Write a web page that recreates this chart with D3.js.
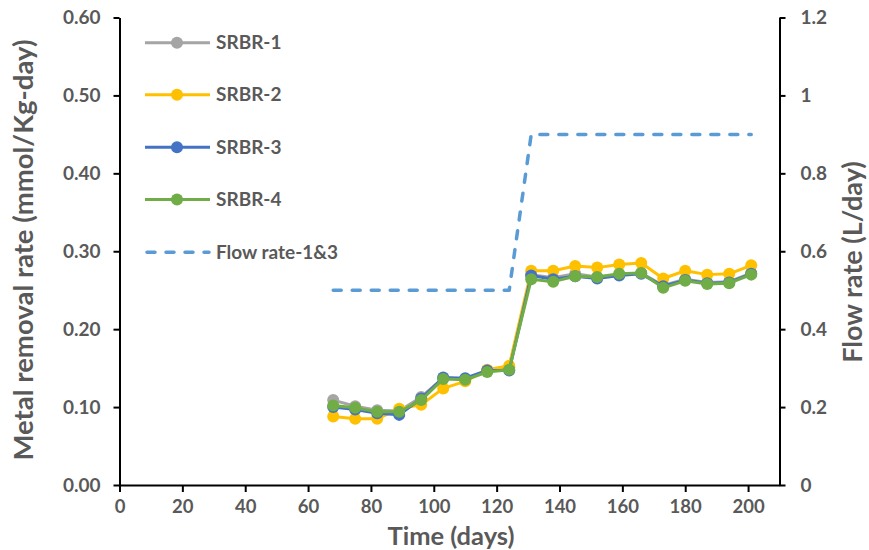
<!DOCTYPE html>
<html>
<head>
<meta charset="utf-8">
<script src="https://cdn.jsdelivr.net/npm/d3@7"></script>
<style>
  html, body { margin: 0; padding: 0; background: #fff; }
  svg { display: block; }
  text { font-family: Lato, "Open Sans", sans-serif; font-weight: bold; fill: #595959; }
</style>
</head>
<body>
<svg id="chart" width="869" height="550"></svg>
<script>
// Sampling days (weekly)
const days = [68, 75, 82, 89, 96, 103, 110, 117, 124, 131, 138, 145, 152, 159, 166, 173, 180, 187, 194, 201];

// Metal removal rate (mmol/Kg-day) per reactor
const srbr1 = [0.109, 0.101, 0.096, 0.095, 0.113, 0.137, 0.136, 0.146, 0.151, 0.270, 0.266, 0.271, 0.267, 0.270, 0.272, 0.256, 0.264, 0.260, 0.261, 0.272];
const srbr2 = [0.088, 0.085, 0.085, 0.098, 0.103, 0.124, 0.133, 0.148, 0.153, 0.275, 0.275, 0.281, 0.279, 0.283, 0.285, 0.265, 0.275, 0.270, 0.271, 0.282];
const srbr3 = [0.100, 0.097, 0.092, 0.090, 0.111, 0.138, 0.137, 0.147, 0.147, 0.269, 0.264, 0.268, 0.265, 0.269, 0.271, 0.255, 0.263, 0.259, 0.260, 0.271];
const srbr4 = [0.102, 0.099, 0.094, 0.094, 0.109, 0.136, 0.135, 0.145, 0.148, 0.264, 0.261, 0.268, 0.267, 0.271, 0.272, 0.253, 0.262, 0.258, 0.259, 0.270];

// Flow rate (L/day) for reactors 1 & 3
const flowRate = [0.5, 0.5, 0.5, 0.5, 0.5, 0.5, 0.5, 0.5, 0.5, 0.9, 0.9, 0.9, 0.9, 0.9, 0.9, 0.9, 0.9, 0.9, 0.9, 0.9];

// Axis ticks
const xTicks = [0, 20, 40, 60, 80, 100, 120, 140, 160, 180, 200];
const yLeftTicks = [0, 0.1, 0.2, 0.3, 0.4, 0.5, 0.6];
const yRightTicks = [0, 0.2, 0.4, 0.6, 0.8, 1, 1.2];

const seriesNames = ["SRBR-1", "SRBR-2", "SRBR-3", "SRBR-4"];
const seriesValues = [srbr1, srbr2, srbr3, srbr4];
const seriesColors = ["#A5A5A5", "#FFC000", "#4472C4", "#70AD47"];
const flowName = "Flow rate-1&3";
const flowColor = "#5B9BD5";

const svg = d3.select("#chart");
const plot = { left: 119.5, right: 779.5, top: 17.5, bottom: 485 };

const x = d3.scaleLinear().domain([0, 210]).range([plot.left, plot.right]);
const yL = d3.scaleLinear().domain([0, 0.6]).range([plot.bottom, plot.top]);
const yR = d3.scaleLinear().domain([0, 1.2]).range([plot.bottom, plot.top]);

// Axes
function styleAxis(g, size) {
  g.selectAll("path.domain").attr("stroke", "#000").attr("stroke-width", 2);
  g.selectAll(".tick line").attr("stroke", "#000").attr("stroke-width", 2);
  g.selectAll(".tick text").style("font-size", size + "px").style("font-family", "Lato, sans-serif")
    .style("font-weight", "bold").attr("fill", "#595959");
}

svg.append("g")
  .attr("transform", `translate(0,${plot.bottom})`)
  .call(d3.axisBottom(x).tickValues(xTicks).tickSize(7).tickSizeOuter(0).tickPadding(8).tickFormat(d3.format("d")))
  .call(g => styleAxis(g, 18.5));

svg.append("g")
  .attr("transform", `translate(${plot.left},0)`)
  .call(d3.axisLeft(yL).tickValues(yLeftTicks).tickSize(6).tickSizeOuter(0).tickPadding(13).tickFormat(d3.format(".2f")))
  .call(g => styleAxis(g, 19));

svg.append("g")
  .attr("transform", `translate(${plot.right},0)`)
  .call(d3.axisRight(yR).tickValues(yRightTicks).tickSize(6).tickSizeOuter(0).tickPadding(15).tickFormat(d => d3.format("")(+d.toFixed(1))))
  .call(g => styleAxis(g, 19));

// Axis titles
svg.append("text")
  .attr("x", 451).attr("y", 545)
  .attr("text-anchor", "middle").style("font-size", "25.5px")
  .text("Time (days)");

svg.append("text")
  .attr("transform", `translate(33,${250}) rotate(-90)`)
  .attr("text-anchor", "middle").style("font-size", "27.5px")
  .text("Metal removal rate (mmol/Kg-day)");

svg.append("text")
  .attr("transform", `translate(862,${262}) rotate(-90)`)
  .attr("text-anchor", "middle").style("font-size", "27px")
  .text("Flow rate (L/day)");

// Flow rate (dashed, right axis)
const flowLine = d3.line().x((d, i) => x(days[i])).y(d => yR(d));
svg.append("path")
  .datum(flowRate)
  .attr("d", flowLine)
  .attr("fill", "none")
  .attr("stroke", flowColor)
  .attr("stroke-width", 3.5)
  .attr("stroke-linecap", "round")
  .attr("stroke-linejoin", "round")
  .attr("stroke-dasharray", "8,11");

// Metal removal series (left axis)
const rateLine = d3.line().x((d, i) => x(days[i])).y(d => yL(d));
seriesValues.forEach((vals, s) => {
  const g = svg.append("g");
  g.append("path")
    .datum(vals)
    .attr("d", rateLine)
    .attr("fill", "none")
    .attr("stroke", seriesColors[s])
    .attr("stroke-width", 3)
    .attr("stroke-linejoin", "round");
  g.selectAll("circle")
    .data(vals)
    .join("circle")
    .attr("cx", (d, i) => x(days[i]))
    .attr("cy", d => yL(d))
    .attr("r", 6)
    .attr("fill", seriesColors[s]);
});

// Legend
const legendRows = [42.7, 94.8, 147.2, 199.4, 252.3];
const legendItems = seriesNames.map((n, i) => ({ name: n, color: seriesColors[i], dashed: false }))
  .concat([{ name: flowName, color: flowColor, dashed: true }]);

const lg = svg.append("g");
legendItems.forEach((item, i) => {
  const yy = legendRows[i];
  const row = lg.append("g");
  row.append("line")
    .attr("x1", item.dashed ? 147 : 145).attr("x2", item.dashed ? 209 : 210)
    .attr("y1", yy).attr("y2", yy)
    .attr("stroke", item.color)
    .attr("stroke-width", item.dashed ? 3.5 : 3)
    .attr("stroke-linecap", item.dashed ? "round" : "butt")
    .attr("stroke-dasharray", item.dashed ? "8,11" : null);
  if (!item.dashed) {
    row.append("circle").attr("cx", 177).attr("cy", yy).attr("r", 6).attr("fill", item.color);
  }
  row.append("text")
    .attr("x", 216).attr("y", yy).attr("dy", "0.35em")
    .style("font-size", "19px")
    .text(item.name);
});
</script>
</body>
</html>
